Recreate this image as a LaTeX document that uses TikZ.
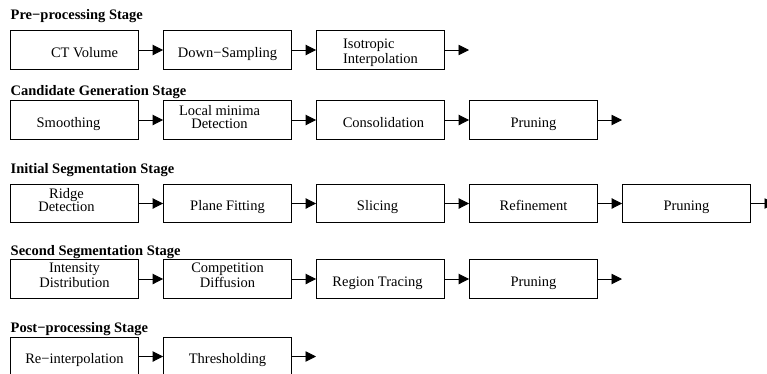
\documentclass[tikz,border=0pt]{standalone}
\usepackage{fontspec}
\setmainfont{Liberation Serif}
\usetikzlibrary{arrows.meta}
\begin{document}
\begin{tikzpicture}[x=1pt,y=-1pt,
  box/.style={draw,line width=0.9pt,minimum width=128pt,minimum height=38.5pt,inner sep=0pt,font=\fontsize{14.5}{13}\selectfont},
  one/.style={box,text height=15pt,text depth=1pt},
  two/.style={box,align=center,text height=16pt,text depth=0pt},
  twol/.style={box,align=left,text height=26pt,text depth=0pt},
  ttl/.style={anchor=base west,inner sep=0pt,font=\fontsize{14.5}{17}\selectfont\bfseries},
  arr/.style={line width=0.9pt,-{Triangle[length=10.5pt,width=10.5pt]}}]
\useasboundingbox (0,0) rectangle (767,373);
% Row 1
\node[ttl] (t1) at (10.5,19) {Pre−processing Stage};
\node[one] (a1) at (74.5,50) {\hspace*{20pt}CT Volume};
\node[one] (a2) at (227.5,50) {Down−Sampling};
\node[twol] (a3) at (380.5,50) {Isotropic\\Interpolation};
\coordinate (ae) at (469,50);
\draw[arr] (a1) -- (a2);
\draw[arr] (a2) -- (a3);
\draw[arr] (a3) -- (ae);
% Row 2
\node[ttl] (t2) at (10.5,95) {Candidate Generation Stage};
\node[one] (b1) at (74.5,120) {Smoothing\hspace*{12pt}};
\node[two] (b2) at (227.5,120) {Local minima\hspace*{16pt}\\Detection\hspace*{16pt}};
\node[one] (b3) at (380.5,120) {\hspace*{6pt}Consolidation};
\node[one] (b4) at (533.5,120) {Pruning};
\coordinate (be) at (622,120);
\draw[arr] (b1) -- (b2);
\draw[arr] (b2) -- (b3);
\draw[arr] (b3) -- (b4);
\draw[arr] (b4) -- (be);
% Row 3
\node[ttl] (t3) at (10.5,173) {Initial Segmentation Stage};
\node[two] (c1) at (74.5,203.5) {Ridge\hspace*{16pt}\\Detection\hspace*{16pt}};
\node[one] (c2) at (227.5,203.5) {Plane Fitting};
\node[one] (c3) at (380.5,203.5) {Slicing\hspace*{6pt}};
\node[one] (c4) at (533.5,203.5) {Refinement};
\node[one] (c5) at (686.5,203.5) {Pruning};
\coordinate (ce) at (775,203.5);
\draw[arr] (c1) -- (c2);
\draw[arr] (c2) -- (c3);
\draw[arr] (c3) -- (c4);
\draw[arr] (c4) -- (c5);
\draw[arr] (c5) -- (ce);
% Row 4
\node[ttl] (t4) at (10.5,255) {Second Segmentation Stage};
\node[two] (d1) at (74.5,279) {Intensity\\Distribution};
\node[two] (d2) at (227.5,279) {Competition\\Diffusion};
\node[one] (d3) at (380.5,279) {Region Tracing\hspace*{6pt}};
\node[one] (d4) at (533.5,279) {Pruning};
\coordinate (de) at (622,279);
\draw[arr] (d1) -- (d2);
\draw[arr] (d2) -- (d3);
\draw[arr] (d3) -- (d4);
\draw[arr] (d4) -- (de);
% Row 5
\node[ttl] (t5) at (10.5,332) {Post−processing Stage};
\node[one] (e1) at (74.5,356.5) {Re−interpolation};
\node[one] (e2) at (227.5,356.5) {Thresholding};
\coordinate (ee) at (316,356.5);
\draw[arr] (e1) -- (e2);
\draw[arr] (e2) -- (ee);
\end{tikzpicture}
\end{document}
